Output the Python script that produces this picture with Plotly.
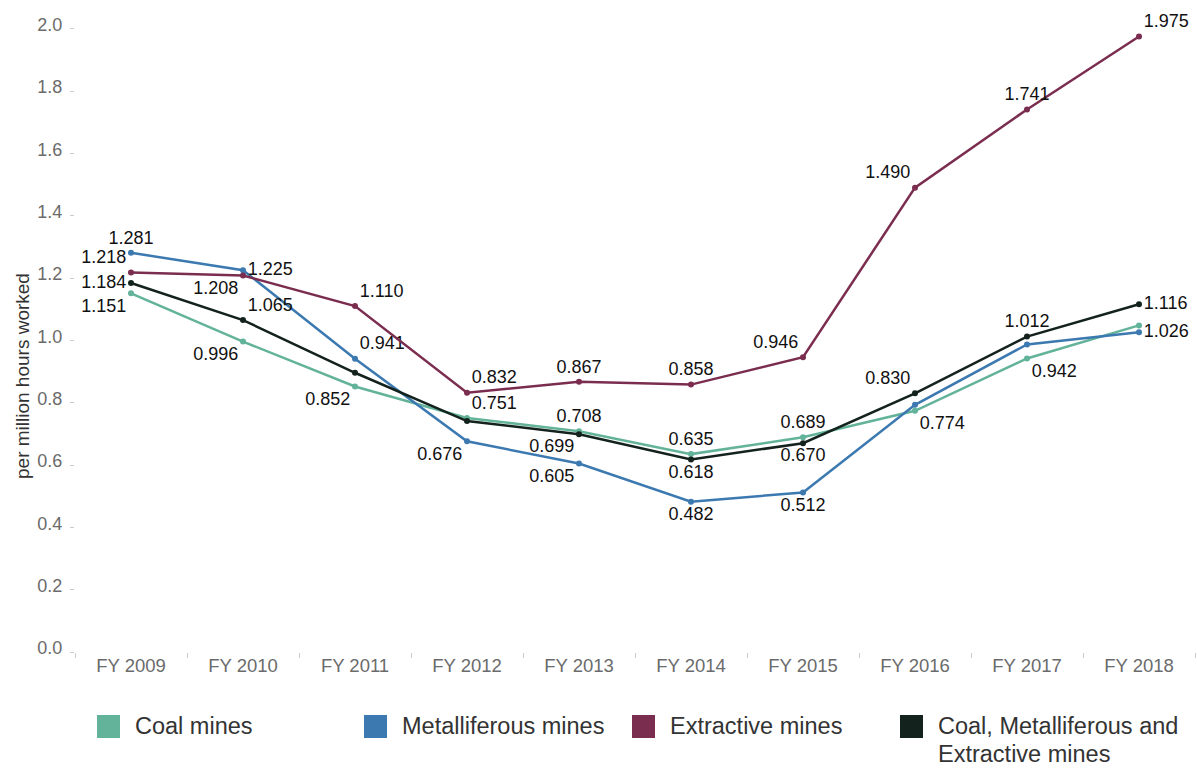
import plotly.graph_objects as go

years = ["FY 2009", "FY 2010", "FY 2011", "FY 2012", "FY 2013",
         "FY 2014", "FY 2015", "FY 2016", "FY 2017", "FY 2018"]

coal = [1.151, 0.996, 0.852, 0.751, 0.708, 0.635, 0.689, 0.774, 0.942, 1.048]
metal = [1.281, 1.225, 0.941, 0.676, 0.605, 0.482, 0.512, 0.793, 0.987, 1.026]
extractive = [1.218, 1.208, 1.110, 0.832, 0.867, 0.858, 0.946, 1.490, 1.741, 1.975]
combined = [1.184, 1.065, 0.896, 0.741, 0.699, 0.618, 0.670, 0.830, 1.012, 1.116]

# which points carry a visible value label
coal_show = [1, 1, 1, 1, 1, 1, 1, 1, 1, 0]
metal_show = [1, 1, 1, 1, 1, 1, 1, 0, 0, 1]
extr_show = [1, 1, 1, 1, 1, 1, 1, 1, 1, 1]
comb_show = [1, 1, 0, 0, 1, 1, 1, 1, 1, 1]

coal_pos = ["bottom left", "bottom left", "bottom left", "top right", "top center",
            "top center", "top center", "bottom right", "bottom right", "top center"]
metal_pos = ["top center", "middle right", "top right", "bottom left", "bottom left",
             "bottom center", "bottom center", "top center", "top center", "middle right"]
extr_pos = ["top left", "bottom left", "top right", "top right", "top center",
            "top center", "top left", "top left", "top center", "top right"]
comb_pos = ["middle left", "top right", "top center", "top center", "bottom left",
            "bottom center", "bottom center", "top left", "top center", "middle right"]

names = ["Coal mines", "Metalliferous mines", "Extractive mines",
         "Coal, Metalliferous and Extractive mines"]
legend_lines = [["Coal mines"], ["Metalliferous mines"], ["Extractive mines"],
                ["Coal, Metalliferous and", "Extractive mines"]]
colors = ["#62b39a", "#3b79b0", "#7b2d4f", "#13221d"]

series = [
    (coal, coal_show, coal_pos),
    (metal, metal_show, metal_pos),
    (extractive, extr_show, extr_pos),
    (combined, comb_show, comb_pos),
]

FONT = "Liberation Sans, Arial, sans-serif"

fig = go.Figure()
for (vals, show, pos), name, col in zip(series, names, colors):
    fig.add_trace(go.Scatter(
        x=years, y=vals, mode="lines+markers+text",
        name=name,
        line=dict(color=col, width=2.5),
        marker=dict(color=col, size=6),
        text=[f"{v:.3f}" if s else "" for v, s in zip(vals, show)],
        textposition=pos,
        textfont=dict(family=FONT, size=18, color="#111111"),
        showlegend=False,
        cliponaxis=False,
    ))

L, R, T, B = 75, 2, 15, 116
W, H = 1197, 768
pw, ph = W - L - R, H - T - B

def px_x(x):
    return (x - L) / pw

def px_y(y):
    return (H - B - y) / ph

shapes = []
annotations = []
sw_x = [97, 364, 632, 900]
for xs, lines, col in zip(sw_x, legend_lines, colors):
    shapes.append(dict(type="rect", xref="paper", yref="paper",
                       x0=px_x(xs), x1=px_x(xs + 23), y0=px_y(738), y1=px_y(715),
                       fillcolor=col, line=dict(width=0)))
    for i, ln in enumerate(lines):
        annotations.append(dict(xref="paper", yref="paper", x=px_x(xs + 37),
                                y=px_y(726 + 28 * i),
                                xanchor="left", yanchor="middle", align="left",
                                text=ln, showarrow=False, borderpad=0,
                                font=dict(family=FONT, size=23.5, color="#333333")))

annotations.append(dict(xref="paper", yref="paper", x=px_x(22), y=px_y(376),
                        xanchor="center", yanchor="middle", textangle=-90,
                        text="per million hours worked", showarrow=False,
                        font=dict(family=FONT, size=19, color="#333333")))

fig.update_layout(
    width=W, height=H,
    margin=dict(l=L, r=R, t=T, b=B, autoexpand=False),
    plot_bgcolor="white", paper_bgcolor="white",
    font=dict(family=FONT),
    shapes=shapes, annotations=annotations,
    xaxis=dict(
        type="category", range=[-0.5, 9.5], automargin=False,
        tickson="boundaries", ticks="outside", ticklen=5, tickcolor="#cccccc",
        showgrid=False, zeroline=False, showline=False,
        tickfont=dict(family=FONT, size=18.5, color="#6b6b6b"),
    ),
    yaxis=dict(
        range=[0, 2.044], automargin=False,
        tickvals=[0, 0.2, 0.4, 0.6, 0.8, 1.0, 1.2, 1.4, 1.6, 1.8, 2.0],
        ticktext=["0.0", "0.2", "0.4", "0.6", "0.8", "1.0", "1.2", "1.4", "1.6", "1.8", "2.0"],
        ticks="outside", ticklen=4, tickcolor="#cccccc",
        ticklabelshift=-4, ticklabelstandoff=4,
        showgrid=False, zeroline=False, showline=False,
        tickfont=dict(family=FONT, size=18, color="#6b6b6b"),
    ),
)

fig.write_html("out.html", config={"displayModeBar": False},
               post_script="document.body.style.margin='0px';document.body.style.overflow='hidden';")
